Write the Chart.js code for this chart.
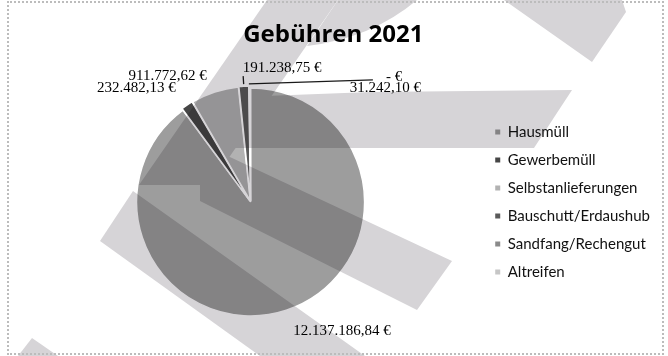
<!DOCTYPE html>
<html>
<head>
<meta charset="utf-8">
<script src="https://cdn.jsdelivr.net/npm/chart.js@4.4.1/dist/chart.umd.min.js"></script>
<style>
  html, body { margin: 0; padding: 0; background: #fff; }
  #wrap { position: relative; width: 668px; height: 356px; }
  #frame { position: absolute; left: 7px; top: 1px; width: 653px; height: 350px;
           border: 2px dotted #bcbcbc; pointer-events: none; }
</style>
</head>
<body>
<div id="wrap">
  <canvas id="feesChart" width="668" height="356"></canvas>
  <div id="frame"></div>
</div>
<script>
// Gebühren 2021 by waste stream (EUR)
const categories = ["Hausmüll", "Gewerbemüll", "Selbstanlieferungen", "Bauschutt/Erdaushub", "Sandfang/Rechengut", "Altreifen"];
const fees = [12137186.84, 232482.13, 911772.62, 191238.75, 0, 31242.10];
const sliceColors = ["#9d9d9d", "#464646", "#b2b2b2", "#5a5a5a", "#8a8a8a", "#c6c6c6"];

// where each value label sits relative to its slice
const labelLayout = [
    { dist: 22, align: "left" },
    { dist: 18, align: "right" },
    { dist: 14, align: "right", shiftX: -3 },
    { dist: 16, align: "left", leader: 8 },
    { dist: 0, align: "left", shiftX: 137, shiftY: -7, leaderTo: [-13, 3] },
    { dist: 0, align: "left", shiftX: 100, shiftY: 4 }
];

// light background logo shapes
const logoShapes = [
    [[267, 0], [338, 0], [210, 185], [139, 185]],
    [[133, 191], [365, 356], [260, 356], [100, 241]],
    [[200, 143], [452, 261], [417, 310], [200, 201]],
    [[265, 96], [371, 92], [572, 90], [534, 148], [230, 148]],
    [[504, 0], [622, 0], [626, 12], [592, 62]],
    [[18, 356], [32, 338], [58, 356]]
];

function formatEuro(v) {
    if (v === 0) return "- €";
    let parts = v.toFixed(2).split(".");
    return parts[0].replace(/\B(?=(\d{3})+(?!\d))/g, ".") + "," + parts[1] + " €";
}

const logoPlugin = {
    id: "logo",
    afterDraw(chart) {
        const off = document.createElement("canvas");
        off.width = chart.width;
        off.height = chart.height;
        const o = off.getContext("2d");
        o.fillStyle = "#d6d4d7";
        logoShapes.forEach(pts => {
            o.beginPath();
            o.moveTo(pts[0][0], pts[0][1]);
            pts.slice(1).forEach(p => o.lineTo(p[0], p[1]));
            o.closePath();
            o.fill();
        });
        // rounded top of the stem
        o.beginPath();
        o.moveTo(338, 0);
        o.lineTo(417, 0);
        o.quadraticCurveTo(372, 38, 307, 46);
        o.closePath();
        o.fill();

        const ctx = chart.ctx;
        ctx.save();
        ctx.globalCompositeOperation = "multiply";
        ctx.drawImage(off, 0, 0);
        ctx.restore();
    }
};

const valueLabels = {
    id: "valueLabels",
    afterDatasetsDraw(chart) {
        const ctx = chart.ctx;
        const meta = chart.getDatasetMeta(0);
        ctx.save();
        ctx.font = "15px 'Liberation Serif'";
        ctx.fillStyle = "#000";
        ctx.strokeStyle = "#1a1a1a";
        ctx.lineWidth = 1.3;
        ctx.textBaseline = "middle";
        meta.data.forEach((arc, i) => {
            const p = arc.getProps(["x", "y", "startAngle", "endAngle", "outerRadius"], true);
            const mid = (p.startAngle + p.endAngle) / 2;
            const off = chart.data.datasets[0].offset[i];
            const r = p.outerRadius + off;
            const cx = Math.cos(mid), cy = Math.sin(mid);
            const edgeX = p.x + cx * r, edgeY = p.y + cy * r;
            const lay = labelLayout[i];
            const ax = p.x + cx * (r + lay.dist) + (lay.shiftX || 0);
            const ay = p.y + cy * (r + lay.dist) + (lay.shiftY || 0);
            if (lay.leader) {
                ctx.beginPath();
                ctx.moveTo(edgeX, edgeY);
                ctx.lineTo(p.x + cx * (r + lay.leader), p.y + cy * (r + lay.leader));
                ctx.stroke();
            }
            if (lay.leaderTo) {
                ctx.beginPath();
                ctx.moveTo(edgeX, edgeY);
                ctx.lineTo(ax + lay.leaderTo[0], ay + lay.leaderTo[1]);
                ctx.stroke();
            }
            ctx.textAlign = lay.align;
            ctx.fillText(formatEuro(fees[i]), ax, ay);
        });
        ctx.restore();
    }
};

new Chart(document.getElementById("feesChart"), {
    type: "pie",
    data: {
        labels: categories,
        datasets: [{
            data: fees,
            backgroundColor: sliceColors,
            borderColor: "#ffffff",
            borderWidth: 1.5,
            offset: [0, 4, 4, 4, 4, 4],
            radius: 114
        }]
    },
    options: {
        responsive: false,
        animation: false,
        layout: { padding: { left: 19, right: 8, top: 0, bottom: 5 } },
        plugins: {
            title: {
                display: true,
                text: "Gebühren 2021  ",
                color: "#000",
                font: { family: "'Open Sans'", size: 24, weight: "bold" },
                padding: { top: 21, bottom: 3 }
            },
            legend: {
                position: "right",
                fullSize: false,
                labels: {
                    boxWidth: 5,
                    boxHeight: 5,
                    padding: 13,
                    color: "#111",
                    font: { family: "Lato", size: 15 },
                    generateLabels(chart) {
                        return Chart.overrides.pie.plugins.legend.labels.generateLabels(chart)
                            .map(item => Object.assign(item, { lineWidth: 0, strokeStyle: item.fillStyle }));
                    }
                }
            },
            tooltip: { enabled: false }
        }
    },
    plugins: [valueLabels, logoPlugin]
});
</script>
</body>
</html>
